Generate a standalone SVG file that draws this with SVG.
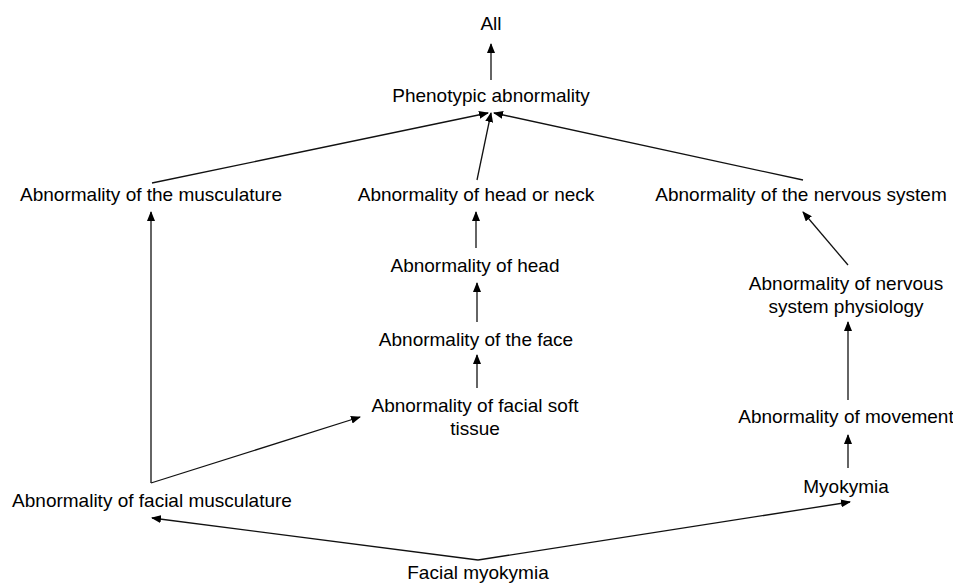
<svg xmlns="http://www.w3.org/2000/svg" width="953" height="584" viewBox="0 0 953 584">
<style>
text{font-family:"Liberation Sans",Arial,sans-serif;font-size:19px;fill:#000;text-anchor:middle}
.e{stroke:#111;stroke-width:1.3;fill:none;marker-end:url(#a)}
</style>
<defs>
<marker id="a" viewBox="0 0 10 8" refX="9" refY="4" markerWidth="10" markerHeight="8" markerUnits="userSpaceOnUse" orient="auto">
<path d="M0,0 L10,4 L0,8 Z" fill="#000"/>
</marker>
</defs>
<rect width="953" height="584" fill="#fff"/>
<g id="connectors">
<line class="e" x1="491" y1="80" x2="491" y2="44"/>
<line class="e" x1="152" y1="183" x2="488" y2="113"/>
<line class="e" x1="477" y1="180" x2="491" y2="113"/>
<line class="e" x1="803" y1="180" x2="494" y2="113"/>
<line class="e" x1="476" y1="248" x2="476" y2="212"/>
<line class="e" x1="477" y1="322" x2="477" y2="283"/>
<line class="e" x1="477" y1="388" x2="477" y2="355"/>
<line class="e" x1="151" y1="483" x2="151" y2="212"/>
<line class="e" x1="151" y1="483" x2="360" y2="417"/>
<line class="e" x1="848" y1="265" x2="803" y2="212"/>
<line class="e" x1="848" y1="400" x2="848" y2="322"/>
<line class="e" x1="848" y1="468" x2="848" y2="435"/>
<line class="e" x1="478" y1="560" x2="152" y2="518"/>
<line class="e" x1="478" y1="560" x2="850" y2="502"/>
</g>
<g id="n_all"><text x="491" y="30">All</text></g>
<g id="n_pheno"><text x="491" y="102">Phenotypic abnormality</text></g>
<g id="n_musc"><text x="151" y="201">Abnormality of the musculature</text></g>
<g id="n_headneck"><text x="476" y="201">Abnormality of head or neck</text></g>
<g id="n_nervous"><text x="801" y="201">Abnormality of the nervous system</text></g>
<g id="n_head"><text x="475" y="272">Abnormality of head</text></g>
<g id="n_face"><text x="476" y="346">Abnormality of the face</text></g>
<g id="n_softtissue"><text x="475" y="412">Abnormality of facial soft</text><text x="475" y="435">tissue</text></g>
<g id="n_nervphys"><text x="846" y="290">Abnormality of nervous</text><text x="846" y="313">system physiology</text></g>
<g id="n_movement"><text x="846" y="423">Abnormality of movement</text></g>
<g id="n_myokymia"><text x="846" y="493">Myokymia</text></g>
<g id="n_facialmusc"><text x="152" y="507">Abnormality of facial musculature</text></g>
<g id="n_facialmyo"><text x="478" y="579">Facial myokymia</text></g>
</svg>
